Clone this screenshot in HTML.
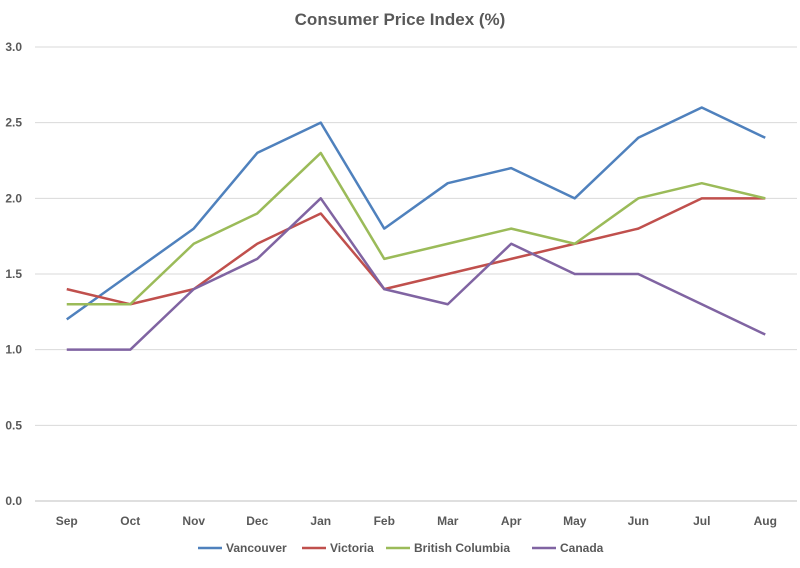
<!DOCTYPE html>
<html><head><meta charset="utf-8"><style>
body{margin:0;background:#fff;font-family:"Liberation Sans",sans-serif;}
svg text{font-family:"Liberation Sans",sans-serif;}
</style></head><body>
<svg id="chart" width="800" height="563">
<text x="400" y="25" text-anchor="middle" font-size="17" font-weight="bold" fill="#595959">Consumer Price Index (%)</text>
<g id="grid"></g><g id="series"></g><g id="legend"></g>
</svg>
<script>
const categories=["Sep","Oct","Nov","Dec","Jan","Feb","Mar","Apr","May","Jun","Jul","Aug"];
const yTicks=[0,0.5,1,1.5,2,2.5,3];
const vancouver=[1.2,1.5,1.8,2.3,2.5,1.8,2.1,2.2,2.0,2.4,2.6,2.4];
const victoria=[1.4,1.3,1.4,1.7,1.9,1.4,1.5,1.6,1.7,1.8,2.0,2.0];
const britishColumbia=[1.3,1.3,1.7,1.9,2.3,1.6,1.7,1.8,1.7,2.0,2.1,2.0];
const canada=[1.0,1.0,1.4,1.6,2.0,1.4,1.3,1.7,1.5,1.5,1.3,1.1];
const seriesNames=["Vancouver","Victoria","British Columbia","Canada"];
const seriesColors=["#4f81bd","#c0504d","#9bbb59","#8064a2"];
const seriesData=[vancouver,victoria,britishColumbia,canada];
const NS="http://www.w3.org/2000/svg";
const L=35,R=797,T=47,B=501;
const bw=(R-L)/categories.length;
const xs=i=>L+bw*(i+0.5);
const ys=v=>B-(v/3)*(B-T);
function mk(tag,attrs,parent){const e=document.createElementNS(NS,tag);for(const k in attrs)e.setAttribute(k,attrs[k]);parent.appendChild(e);return e;}
const grid=document.getElementById('grid');
yTicks.forEach(t=>{
 const l=mk('line',{x1:L,x2:R,y1:ys(t),y2:ys(t),stroke:t===0?'#bfbfbf':'#d9d9d9','stroke-width':1},grid);
 
 
 const tx=mk('text',{x:22,y:ys(t)+4,'text-anchor':'end','font-size':12,'font-weight':'bold',fill:'#595959'},grid);
 tx.textContent=t.toFixed(1);
 
 
});
categories.forEach((c,i)=>{
 const tx=mk('text',{x:xs(i),y:525,'text-anchor':'middle','font-size':12,'font-weight':'bold',fill:'#595959'},grid);
 tx.textContent=c;
 
 
});
const sg=document.getElementById('series');
seriesData.forEach((d,s)=>{
 const p=mk('polyline',{points:d.map((v,i)=>xs(i)+','+ys(v)).join(' '),fill:'none',stroke:seriesColors[s],'stroke-width':2.5,'stroke-linejoin':'round'},sg);
 
 
});
const lg=document.getElementById('legend');
const lx=[198,302,386,532];
seriesNames.forEach((n,s)=>{
 const g=mk('g',{},lg);
 
 
 mk('line',{x1:lx[s],x2:lx[s]+24,y1:548,y2:548,stroke:seriesColors[s],'stroke-width':2.5},g);
 const t=mk('text',{x:lx[s]+28,y:552,'font-size':12,'font-weight':'bold',fill:'#595959'},g);
 t.textContent=n;
});
</script>
</body></html>
